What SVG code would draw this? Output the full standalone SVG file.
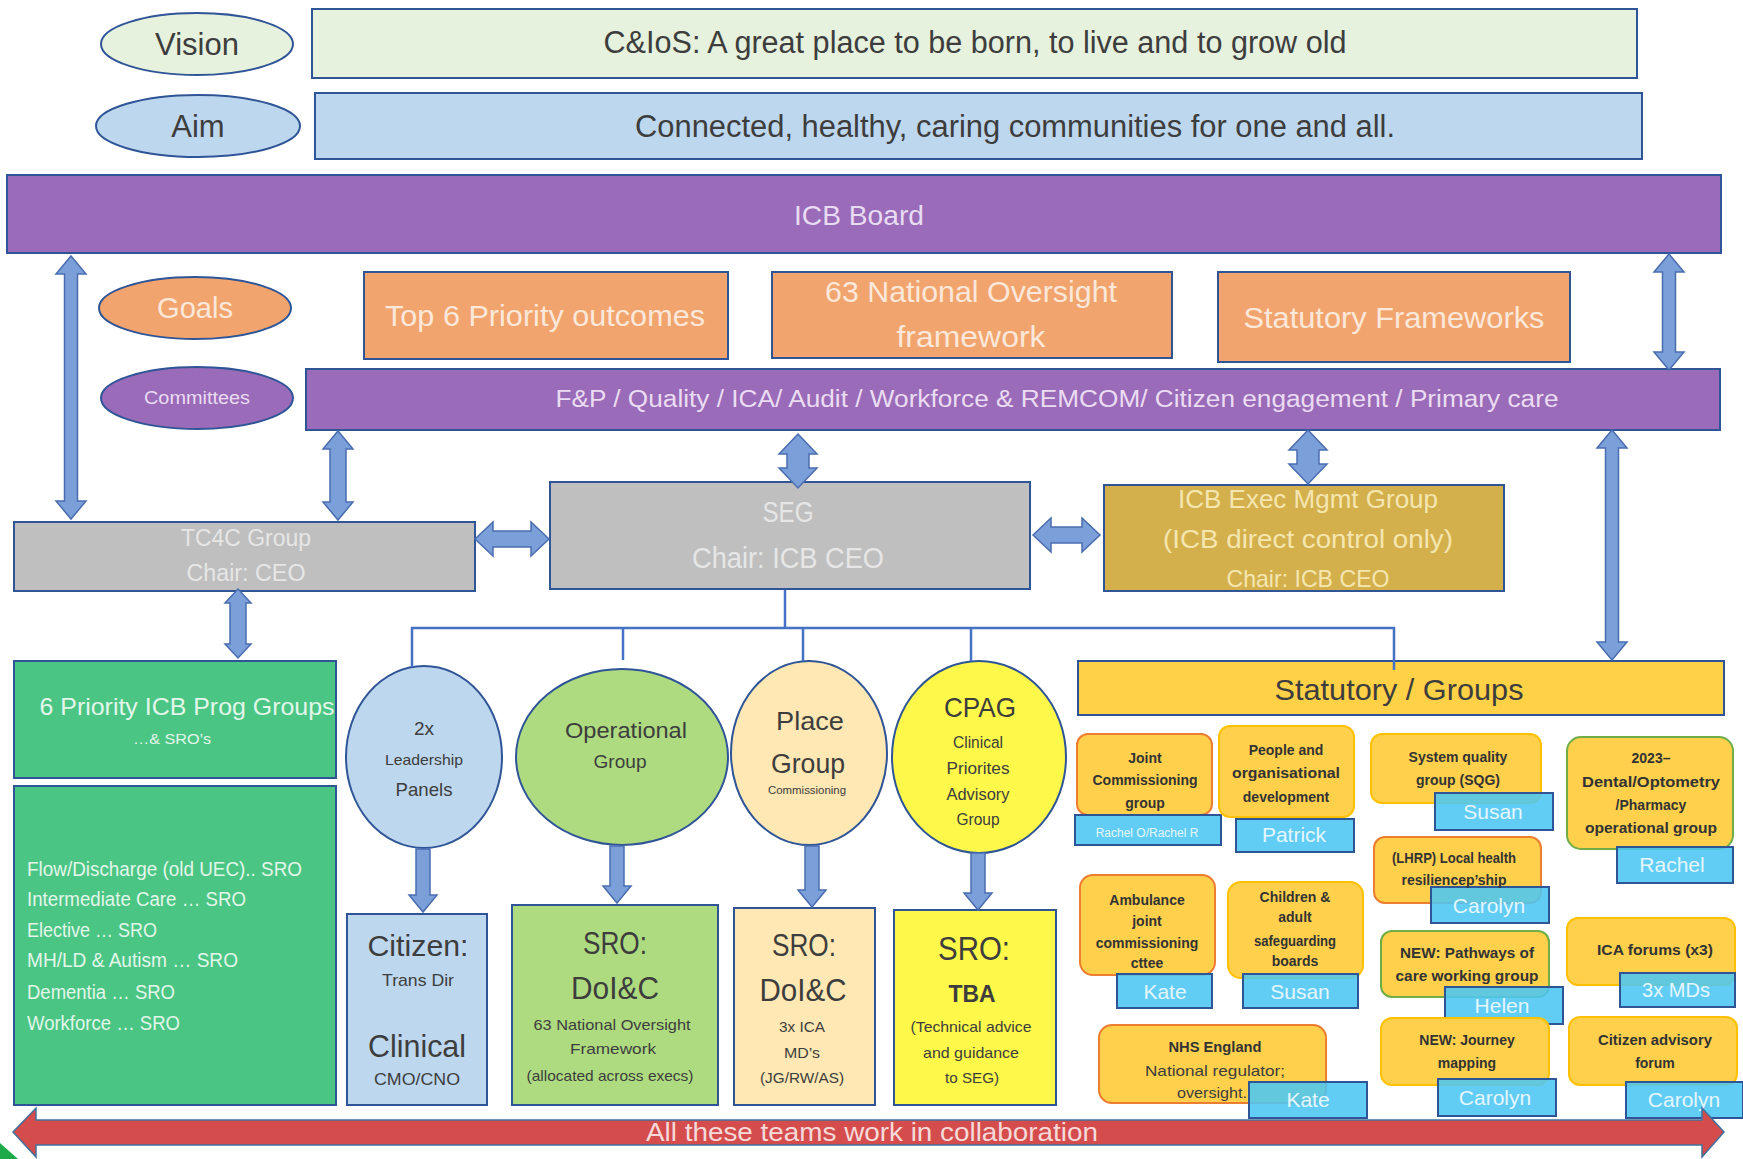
<svg xmlns="http://www.w3.org/2000/svg" width="1743" height="1159" viewBox="0 0 1743 1159">
<defs>
<style>
text{font-family:"Liberation Sans",Arial,sans-serif;text-anchor:middle}
.dk{fill:#3d3d3d}
.bx{stroke:#2F5597;stroke-width:2}
.arw{fill:#7B9FD8;stroke:#4A6DB0;stroke-width:1.5}
.ln{fill:none;stroke:#4472C4;stroke-width:2.5}
.sg{fill:#FFD04C;stroke-width:2}
.tag{fill:#4CC6F2;stroke:#2F5597;stroke-width:2;fill-opacity:0.88}
.tt{fill:#E4F6FF}
.st{fill:#333;font-weight:bold;font-size:14px}
.pur{fill:#9A6BB8}
.org{fill:#F2A46E}
.gry{fill:#BFBFBF}
</style>
</defs>
<rect width="1743" height="1159" fill="#fff"/>

<g id="vision">
<ellipse cx="197" cy="44" rx="96" ry="31" fill="#E6F1DE" class="bx"/>
<text x="197" y="55" font-size="31" class="dk">Vision</text>
<rect x="312" y="9" width="1325" height="69" fill="#E6F1DE" class="bx"/>
<text x="975" y="53" font-size="31" class="dk" textLength="743" lengthAdjust="spacingAndGlyphs">C&amp;IoS: A great place to be born, to live and to grow old</text>
</g>
<g id="aim">
<ellipse cx="198" cy="126" rx="102" ry="31" fill="#BDD7EE" class="bx"/>
<text x="198" y="137" font-size="31" class="dk">Aim</text>
<rect x="315" y="93" width="1327" height="66" fill="#BDD7EE" class="bx"/>
<text x="1015" y="137" font-size="31" class="dk" textLength="760" lengthAdjust="spacingAndGlyphs">Connected, healthy, caring communities for one and all.</text>
</g>
<g id="icb-board">
<rect x="7" y="175" width="1714" height="78" class="pur bx"/>
<text x="859" y="225" font-size="28" fill="#E8DCF2" textLength="130" lengthAdjust="spacingAndGlyphs">ICB Board</text>
</g>
<g id="goals">
<ellipse cx="195" cy="308" rx="96" ry="31" class="org bx"/>
<text x="195" y="318" font-size="30" fill="#FBE8DA" textLength="76" lengthAdjust="spacingAndGlyphs">Goals</text>
</g>
<g id="top6">
<rect x="364" y="272" width="364" height="87" class="org bx"/>
<text x="545" y="326" font-size="29" fill="#FBE8DA" textLength="320" lengthAdjust="spacingAndGlyphs">Top 6 Priority outcomes</text>
</g>
<g id="nof">
<rect x="772" y="272" width="400" height="86" class="org bx"/>
<text x="971" y="302" font-size="29" fill="#FBE8DA" textLength="292" lengthAdjust="spacingAndGlyphs">63 National Oversight</text>
<text x="971" y="347" font-size="29" fill="#FBE8DA" textLength="149" lengthAdjust="spacingAndGlyphs">framework</text>
</g>
<g id="stat-frameworks">
<rect x="1218" y="272" width="352" height="90" class="org bx"/>
<text x="1394" y="328" font-size="29" fill="#FBE8DA" textLength="301" lengthAdjust="spacingAndGlyphs">Statutory Frameworks</text>
</g>
<g id="committees">
<ellipse cx="197" cy="398" rx="96" ry="31" class="pur bx"/>
<text x="197" y="404" font-size="18" fill="#EADCF2" textLength="106" lengthAdjust="spacingAndGlyphs">Committees</text>
</g>
<g id="committees-bar">
<rect x="306" y="369" width="1414" height="61" class="pur bx"/>
<text x="1057" y="407" font-size="23" fill="#EADCF2" textLength="1003" lengthAdjust="spacingAndGlyphs">F&amp;P / Quality / ICA/ Audit / Workforce &amp; REMCOM/ Citizen engagement / Primary care</text>
</g>
<g id="tc4c">
<rect x="14" y="522" width="461" height="69" class="gry bx"/>
<text x="246" y="546" font-size="23" fill="#E6E6E6" textLength="130" lengthAdjust="spacingAndGlyphs">TC4C Group</text>
<text x="246" y="581" font-size="23" fill="#E6E6E6" textLength="119" lengthAdjust="spacingAndGlyphs">Chair: CEO</text>
</g>
<g id="seg">
<rect x="550" y="482" width="480" height="107" class="gry bx"/>
<text x="788" y="522" font-size="29" fill="#E6E6E6" textLength="51" lengthAdjust="spacingAndGlyphs">SEG</text>
<text x="788" y="568" font-size="29" fill="#E6E6E6" textLength="192" lengthAdjust="spacingAndGlyphs">Chair: ICB CEO</text>
</g>
<g id="icb-exec">
<rect x="1104" y="485" width="400" height="106" fill="#D3B04C" class="bx"/>
<text x="1308" y="508" font-size="26" fill="#F5E6B0" textLength="260" lengthAdjust="spacingAndGlyphs">ICB Exec Mgmt  Group</text>
<text x="1308" y="548" font-size="26" fill="#F5E6B0" textLength="290" lengthAdjust="spacingAndGlyphs">(ICB direct control only)</text>
<text x="1308" y="587" font-size="24" fill="#F5E6B0" textLength="163" lengthAdjust="spacingAndGlyphs">Chair: ICB CEO</text>
</g>
<g id="priority-groups">
<rect x="14" y="661" width="322" height="117" fill="#4BC584" class="bx"/>
<text x="187" y="715" font-size="24" fill="#E2F6EA" textLength="295" lengthAdjust="spacingAndGlyphs">6 Priority ICB Prog Groups</text>
<text x="172" y="744" font-size="15" fill="#E2F6EA" textLength="78" lengthAdjust="spacingAndGlyphs">…&amp; SRO’s</text>
</g>
<g id="priority-list" font-size="20">
<rect x="14" y="786" width="322" height="319" fill="#4BC584" class="bx"/>
<text x="27" y="876" style="text-anchor:start" fill="#E2F6EA" textLength="275" lengthAdjust="spacingAndGlyphs">Flow/Discharge (old UEC).. SRO</text>
<text x="27" y="906" style="text-anchor:start" fill="#E2F6EA" textLength="219" lengthAdjust="spacingAndGlyphs">Intermediate Care … SRO</text>
<text x="27" y="937" style="text-anchor:start" fill="#E2F6EA" textLength="130" lengthAdjust="spacingAndGlyphs">Elective … SRO</text>
<text x="27" y="967" style="text-anchor:start" fill="#E2F6EA" textLength="211" lengthAdjust="spacingAndGlyphs">MH/LD &amp; Autism … SRO</text>
<text x="27" y="999" style="text-anchor:start" fill="#E2F6EA" textLength="148" lengthAdjust="spacingAndGlyphs">Dementia … SRO</text>
<text x="27" y="1030" style="text-anchor:start" fill="#E2F6EA" textLength="153" lengthAdjust="spacingAndGlyphs">Workforce … SRO</text>
</g>
<g id="leadership">
<ellipse cx="424" cy="757" rx="78" ry="91" fill="#BDD7EE" class="bx"/>
<text x="424" y="735" font-size="19" class="dk">2x</text>
<text x="424" y="765" font-size="15" class="dk" textLength="78" lengthAdjust="spacingAndGlyphs">Leadership</text>
<text x="424" y="796" font-size="19" class="dk" textLength="57" lengthAdjust="spacingAndGlyphs">Panels</text>
</g>
<g id="operational">
<ellipse cx="622" cy="757" rx="106" ry="88" fill="#AEDB80" class="bx"/>
<text x="626" y="738" font-size="22" class="dk" textLength="122" lengthAdjust="spacingAndGlyphs">Operational</text>
<text x="620" y="768" font-size="19" class="dk" textLength="53" lengthAdjust="spacingAndGlyphs">Group</text>
</g>
<g id="place">
<ellipse cx="809" cy="753" rx="78" ry="92" fill="#FFE8B3" class="bx"/>
<text x="810" y="730" font-size="26" class="dk" textLength="68" lengthAdjust="spacingAndGlyphs">Place</text>
<text x="808" y="773" font-size="27" class="dk" textLength="74" lengthAdjust="spacingAndGlyphs">Group</text>
<text x="807" y="794" font-size="10" class="dk" textLength="78" lengthAdjust="spacingAndGlyphs">Commissioning</text>
</g>
<g id="cpag">
<ellipse cx="979" cy="757" rx="87" ry="96" fill="#FDF84A" class="bx"/>
<text x="980" y="717" font-size="28" class="dk" textLength="72" lengthAdjust="spacingAndGlyphs">CPAG</text>
<text x="978" y="748" font-size="16" class="dk" textLength="50" lengthAdjust="spacingAndGlyphs">Clinical</text>
<text x="978" y="774" font-size="16" class="dk" textLength="63" lengthAdjust="spacingAndGlyphs">Priorites</text>
<text x="978" y="800" font-size="16" class="dk" textLength="63" lengthAdjust="spacingAndGlyphs">Advisory</text>
<text x="978" y="825" font-size="16" class="dk" textLength="43" lengthAdjust="spacingAndGlyphs">Group</text>
</g>
<g id="citizen-clinical">
<rect x="347" y="914" width="140" height="191" fill="#BDD7EE" class="bx"/>
<text x="418" y="956" font-size="30" class="dk" textLength="101" lengthAdjust="spacingAndGlyphs">Citizen:</text>
<text x="418" y="986" font-size="17" class="dk" textLength="72" lengthAdjust="spacingAndGlyphs">Trans Dir</text>
<text x="417" y="1057" font-size="32" class="dk" textLength="98" lengthAdjust="spacingAndGlyphs">Clinical</text>
<text x="417" y="1085" font-size="17" class="dk" textLength="86" lengthAdjust="spacingAndGlyphs">CMO/CNO</text>
</g>
<g id="sro-operational">
<rect x="512" y="905" width="206" height="200" fill="#AEDB80" class="bx"/>
<text x="615" y="954" font-size="31" class="dk" textLength="64" lengthAdjust="spacingAndGlyphs">SRO:</text>
<text x="615" y="999" font-size="31" class="dk" textLength="88" lengthAdjust="spacingAndGlyphs">DoI&amp;C</text>
<text x="612" y="1030" font-size="15" class="dk" textLength="157" lengthAdjust="spacingAndGlyphs">63 National Oversight</text>
<text x="613" y="1054" font-size="15" class="dk" textLength="86" lengthAdjust="spacingAndGlyphs">Framework</text>
<text x="610" y="1081" font-size="15" class="dk" textLength="167" lengthAdjust="spacingAndGlyphs">(allocated across execs)</text>
</g>
<g id="sro-place">
<rect x="734" y="908" width="141" height="197" fill="#FFE8B3" class="bx"/>
<text x="804" y="956" font-size="31" class="dk" textLength="64" lengthAdjust="spacingAndGlyphs">SRO:</text>
<text x="803" y="1001" font-size="31" class="dk" textLength="87" lengthAdjust="spacingAndGlyphs">DoI&amp;C</text>
<text x="802" y="1032" font-size="15" class="dk" textLength="46" lengthAdjust="spacingAndGlyphs">3x ICA</text>
<text x="802" y="1058" font-size="15" class="dk" textLength="36" lengthAdjust="spacingAndGlyphs">MD’s</text>
<text x="802" y="1083" font-size="15" class="dk" textLength="84" lengthAdjust="spacingAndGlyphs">(JG/RW/AS)</text>
</g>
<g id="sro-cpag">
<rect x="894" y="910" width="162" height="195" fill="#FDF84A" class="bx"/>
<text x="974" y="960" font-size="33" class="dk" textLength="72" lengthAdjust="spacingAndGlyphs">SRO:</text>
<text x="972" y="1002" font-size="24" font-weight="bold" class="dk" textLength="47" lengthAdjust="spacingAndGlyphs">TBA</text>
<text x="971" y="1032" font-size="15" class="dk" textLength="121" lengthAdjust="spacingAndGlyphs">(Technical advice</text>
<text x="971" y="1058" font-size="15" class="dk" textLength="96" lengthAdjust="spacingAndGlyphs">and guidance</text>
<text x="972" y="1083" font-size="15" class="dk" textLength="54" lengthAdjust="spacingAndGlyphs">to SEG)</text>
</g>
<g id="statutory-groups">
<rect x="1078" y="661" width="646" height="54" fill="#FFD147" class="bx"/>
<text x="1399" y="700" font-size="30" class="dk" textLength="249" lengthAdjust="spacingAndGlyphs">Statutory / Groups</text>
</g>

<g id="joint-commissioning">
<rect x="1077" y="734" width="135" height="81" rx="11" class="sg" stroke="#ED7D31"/>
<rect x="1075" y="815" width="146" height="30" class="tag"/>
<text x="1145" y="763" class="st">Joint</text>
<text x="1145" y="785" class="st">Commissioning</text>
<text x="1145" y="808" class="st">group</text>
<text x="1147" y="837" font-size="12" class="tt">Rachel O/Rachel R</text>
</g>
<g id="people-od">
<rect x="1219" y="726" width="135" height="91" rx="11" class="sg" stroke="#FFC000"/>
<rect x="1236" y="819" width="118" height="33" class="tag"/>
<text x="1286" y="755" class="st">People and</text>
<text x="1286" y="778" class="st" textLength="108" lengthAdjust="spacingAndGlyphs">organisational</text>
<text x="1286" y="802" class="st">development</text>
<text x="1294" y="842" font-size="21" class="tt">Patrick</text>
</g>
<g id="sqg">
<rect x="1371" y="734" width="170" height="69" rx="11" class="sg" stroke="#FFC000"/>
<rect x="1435" y="793" width="118" height="37" class="tag"/>
<text x="1458" y="762" class="st">System quality</text>
<text x="1458" y="785" class="st">group (SQG)</text>
<text x="1493" y="819" font-size="21" class="tt">Susan</text>
</g>
<g id="dental">
<rect x="1567" y="737" width="166" height="112" rx="14" class="sg" stroke="#70AD47"/>
<rect x="1617" y="847" width="116" height="36" class="tag"/>
<text x="1651" y="763" class="st">2023–</text>
<text x="1651" y="787" class="st" textLength="138" lengthAdjust="spacingAndGlyphs">Dental/Optometry</text>
<text x="1651" y="810" class="st">/Pharmacy</text>
<text x="1651" y="833" class="st" textLength="132" lengthAdjust="spacingAndGlyphs">operational group</text>
<text x="1672" y="872" font-size="21" class="tt">Rachel</text>
</g>
<g id="lhrp">
<rect x="1374" y="837" width="167" height="66" rx="11" class="sg" stroke="#ED7D31"/>
<rect x="1431" y="887" width="118" height="36" class="tag"/>
<text x="1454" y="863" class="st" font-size="13" textLength="124" lengthAdjust="spacingAndGlyphs">(LHRP) Local health</text>
<text x="1454" y="885" class="st" font-size="13" textLength="105" lengthAdjust="spacingAndGlyphs">resiliencep’ship</text>
<text x="1489" y="913" font-size="21" class="tt">Carolyn</text>
</g>
<g id="ambulance">
<rect x="1080" y="875" width="135" height="100" rx="13" class="sg" stroke="#ED7D31"/>
<rect x="1117" y="974" width="95" height="34" class="tag"/>
<text x="1147" y="905" class="st">Ambulance</text>
<text x="1147" y="926" class="st">joint</text>
<text x="1147" y="948" class="st">commissioning</text>
<text x="1147" y="968" class="st">cttee</text>
<text x="1165" y="999" font-size="21" class="tt">Kate</text>
</g>
<g id="safeguarding">
<rect x="1228" y="882" width="135" height="96" rx="13" class="sg" stroke="#FFC000"/>
<rect x="1243" y="974" width="115" height="34" class="tag"/>
<text x="1295" y="902" class="st">Children &amp;</text>
<text x="1295" y="922" class="st">adult</text>
<text x="1295" y="946" class="st" textLength="82" lengthAdjust="spacingAndGlyphs">safeguarding</text>
<text x="1295" y="966" class="st">boards</text>
<text x="1300" y="999" font-size="21" class="tt">Susan</text>
</g>
<g id="pathways">
<rect x="1381" y="931" width="168" height="66" rx="11" class="sg" stroke="#70AD47"/>
<rect x="1445" y="987" width="118" height="37" class="tag"/>
<text x="1467" y="958" class="st" textLength="134" lengthAdjust="spacingAndGlyphs">NEW: Pathways of</text>
<text x="1467" y="981" class="st" textLength="143" lengthAdjust="spacingAndGlyphs">care working group</text>
<text x="1502" y="1013" font-size="21" class="tt">Helen</text>
</g>
<g id="ica-forums">
<rect x="1567" y="918" width="168" height="67" rx="11" class="sg" stroke="#FFC000"/>
<rect x="1620" y="973" width="115" height="34" class="tag"/>
<text x="1655" y="955" class="st" font-size="15" textLength="116" lengthAdjust="spacingAndGlyphs">ICA forums (x3)</text>
<text x="1676" y="997" font-size="20" class="tt">3x MDs</text>
</g>
<g id="nhs-england">
<rect x="1099" y="1025" width="227" height="78" rx="13" class="sg" stroke="#ED7D31"/>
<rect x="1249" y="1082" width="118" height="36" class="tag"/>
<text x="1215" y="1052" class="st" font-size="15" textLength="93" lengthAdjust="spacingAndGlyphs">NHS England</text>
<text x="1215" y="1076" font-size="15" class="dk" textLength="140" lengthAdjust="spacingAndGlyphs">National regulator;</text>
<text x="1212" y="1098" font-size="15" class="dk" textLength="70" lengthAdjust="spacingAndGlyphs">oversight.</text>
<text x="1308" y="1107" font-size="21" class="tt">Kate</text>
</g>
<g id="journey">
<rect x="1381" y="1018" width="168" height="67" rx="11" class="sg" stroke="#FFC000"/>
<rect x="1438" y="1079" width="118" height="37" class="tag"/>
<text x="1467" y="1045" class="st">NEW: Journey</text>
<text x="1467" y="1068" class="st">mapping</text>
<text x="1495" y="1105" font-size="21" class="tt">Carolyn</text>
</g>
<g id="citizen-forum">
<rect x="1569" y="1017" width="168" height="68" rx="11" class="sg" stroke="#FFC000"/>
<rect x="1626" y="1082" width="117" height="36" class="tag"/>
<text x="1655" y="1045" class="st" textLength="114" lengthAdjust="spacingAndGlyphs">Citizen advisory</text>
<text x="1655" y="1068" class="st">forum</text>
<text x="1684" y="1107" font-size="21" class="tt">Carolyn</text>
</g>

<g id="connectors">
<polyline class="ln" points="785,590 785,628"/>
<polyline class="ln" points="412,667 412,628 1394,628 1394,670"/>
<polyline class="ln" points="623,628 623,660"/>
<polyline class="ln" points="803,628 803,661"/>
<polyline class="ln" points="971,628 971,661"/>
<polygon class="arw" points="71,256 86,274 77.5,274 77.5,501 86,501 71,519 56,501 64.5,501 64.5,274 56,274"/>
<polygon class="arw" points="1669,254 1684,272 1675.5,272 1675.5,352 1684,352 1669,370 1654,352 1662.5,352 1662.5,272 1654,272"/>
<polygon class="arw" points="338,431 353,449 346,449 346,502 353,502 338,520 323,502 330,502 330,449 323,449"/>
<polygon class="arw" points="798,434 817,454 809,454 809,468 817,468 798,488 779,468 787,468 787,454 779,454"/>
<polygon class="arw" points="1308,430 1327,450 1319,450 1319,464 1327,464 1308,484 1289,464 1297,464 1297,450 1289,450"/>
<polygon class="arw" points="1612,430 1627,448 1618.5,448 1618.5,642 1627,642 1612,660 1597,642 1605.5,642 1605.5,448 1597,448"/>
<polygon class="arw" points="238,589 251,603 246,603 246,644 251,644 238,658 225,644 230,644 230,603 225,603"/>
<polygon class="arw" points="475,539 493,522 493,531 531,531 531,522 549,539 531,556 531,547 493,547 493,556"/>
<polygon class="arw" points="1033,535 1051,518 1051,527 1082,527 1082,518 1100,535 1082,552 1082,543 1051,543 1051,552"/>
<polygon class="arw" points="416,849 430,849 430,895 437,895 423,912 409,895 416,895"/>
<polygon class="arw" points="610,846 624,846 624,886 631,886 617,903 603,886 610,886"/>
<polygon class="arw" points="805,846 819,846 819,890 826,890 812,907 798,890 805,890"/>
<polygon class="arw" points="971,853 985,853 985,893 992,893 978,910 964,893 971,893"/>
</g>

<g id="collaboration">
<polygon points="13,1132 36,1108 36,1120 1702,1120 1702,1108 1724,1132 1702,1157 1702,1145 36,1145 36,1157" fill="#D44C4C" stroke="#41719C" stroke-width="1.5"/>
<text x="872" y="1141" font-size="26" fill="#F6DADA" textLength="452" lengthAdjust="spacingAndGlyphs">All these teams work in collaboration</text>
</g>
<polygon points="0,1143 18,1159 0,1159" fill="#1FAA4A"/>
</svg>
